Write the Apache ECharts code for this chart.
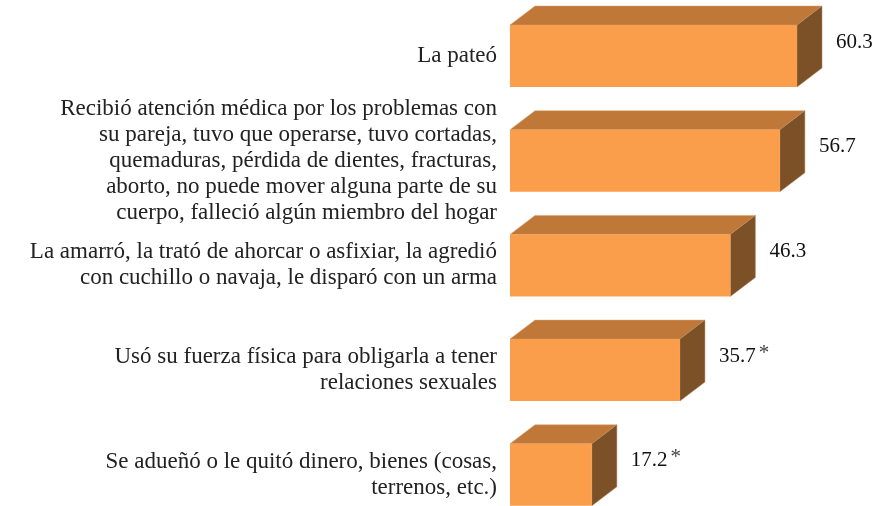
<!DOCTYPE html>
<html>
<head>
<meta charset="utf-8">
<script src="https://cdn.jsdelivr.net/npm/echarts@6/dist/echarts.min.js"></script>
<style>
  html, body { margin: 0; padding: 0; background: #fff; }
</style>
</head>
<body>
<div id="echart" style="width: 884px; height: 506px;"></div>
<script>
// categorias (con los saltos de linea del original)
const categories = [
  'La pateó',
  'Recibió atención médica por los problemas con\nsu pareja, tuvo que operarse, tuvo cortadas,\nquemaduras, pérdida de dientes, fracturas,\naborto, no puede mover alguna parte de su\ncuerpo, falleció algún miembro del hogar',
  'La amarró, la trató de ahorcar o asfixiar, la agredió\ncon cuchillo o navaja, le disparó con un arma',
  'Usó su fuerza física para obligarla a tener\nrelaciones sexuales',
  'Se adueñó o le quitó dinero, bienes (cosas,\nterrenos, etc.)'
];
const values = [60.3, 56.7, 46.3, 35.7, 17.2];
const marks = ['', '', '', '*', '*'];

const FRONT = '#FA9E4B';
const TOP = '#C07838';
const SIDE = '#7C5128';
const DX = 25, DY = 19;

const echart = echarts.init(document.getElementById('echart'));

function renderBox(params, api) {
  const idx = api.value(0);
  const val = api.value(1);
  const start = api.coord([0, idx]);
  const end = api.coord([val, idx]);
  const h = 62;
  const x0 = start[0], x1 = end[0];
  const y0 = start[1] - h / 2, y1 = start[1] + h / 2;
  const mark = marks[idx];
  return {
    type: 'group',
    children: [
      {
        type: 'polygon',
        shape: { points: [[x0, y0], [x0 + DX, y0 - DY], [x1 + DX, y0 - DY], [x1, y0]] },
        style: { fill: TOP, stroke: '#d9a070', lineWidth: 0.5 }
      },
      {
        type: 'polygon',
        shape: { points: [[x1, y0], [x1 + DX, y0 - DY], [x1 + DX, y1 - DY], [x1, y1]] },
        style: { fill: SIDE, stroke: '#b08a66', lineWidth: 0.5 }
      },
      {
        type: 'rect',
        shape: { x: x0, y: y0, width: x1 - x0, height: h },
        style: { fill: FRONT }
      },
      {
        type: 'text',
        x: x1 + DX + 14,
        y: start[1] - 14,
        style: {
          text: '{v|' + val.toFixed(1) + '}' + (mark ? '{m|' + mark + '}' : ''),
          verticalAlign: 'middle',
          align: 'left',
          rich: {
            v: { fontFamily: 'Liberation Serif', fontSize: 21, fill: '#111' },
            m: { fontFamily: 'Liberation Serif', fontSize: 21, fill: '#444', padding: [0, 0, 6, 3] }
          }
        }
      }
    ]
  };
}

echart.setOption({
  animation: false,
  grid: { left: 510, top: 3.65, width: 333.2, bottom: -21.15, outerBoundsMode: 'none', containLabel: false },
  xAxis: {
    type: 'value',
    min: 0,
    max: 70,
    show: false
  },
  yAxis: {
    type: 'category',
    inverse: true,
    data: categories,
    axisLine: { show: false },
    axisTick: { show: false },
    splitLine: { show: false },
    axisLabel: {
      margin: 13,
      fontFamily: 'Liberation Serif',
      fontSize: 23,
      lineHeight: 26,
      color: '#222',
      align: 'right'
    }
  },
  series: [{
    type: 'custom',
    clip: false,
    renderItem: renderBox,
    encode: { x: 1, y: 0 },
    data: values.map((v, i) => [i, v])
  }]
});
</script>
</body>
</html>
